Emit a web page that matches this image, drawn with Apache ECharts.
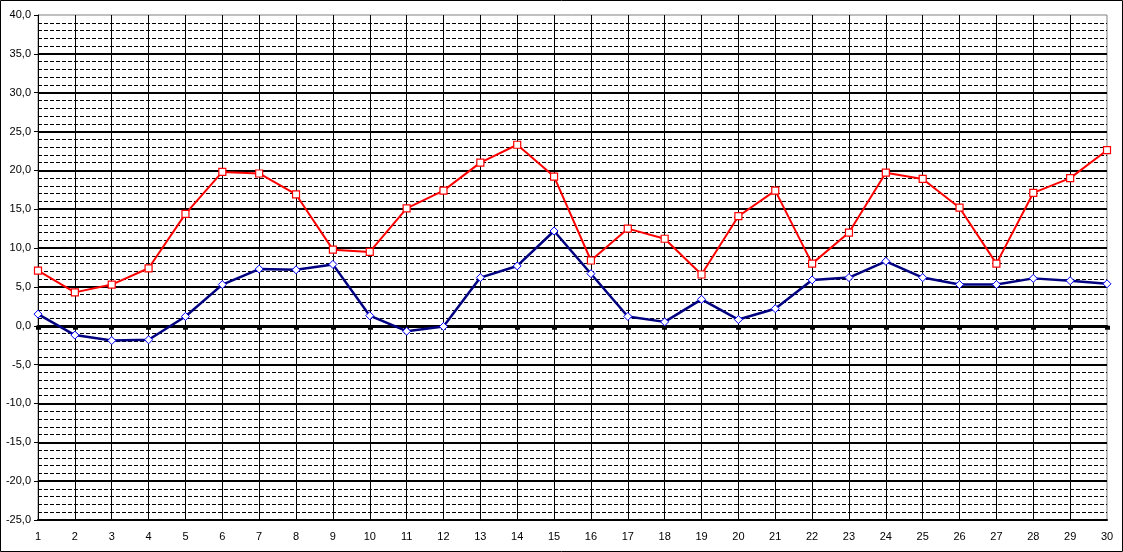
<!DOCTYPE html>
<html>
<head>
<meta charset="utf-8">
<script src="https://cdn.jsdelivr.net/npm/echarts@6/dist/echarts.min.js"></script>
<style>
html,body{margin:0;padding:0;background:#fff;}
#chart{width:1123px;height:552px;}
</style>
</head>
<body>
<div id="chart"></div>
<script>
const categories = ['1','2','3','4','5','6','7','8','9','10','11','12','13','14','15','16','17','18','19','20','21','22','23','24','25','26','27','28','29','30'];
const maxValues = [7.1,4.3,5.3,7.4,14.4,19.8,19.6,16.9,9.8,9.5,15.1,17.4,21.0,23.3,19.2,8.4,12.5,11.2,6.6,14.1,17.4,8.0,12.0,19.7,18.9,15.2,8.0,17.1,19.0,22.6];
const minValues = [1.5,-1.2,-1.9,-1.8,1.2,5.3,7.3,7.2,7.9,1.3,-0.7,-0.1,6.2,7.7,12.2,6.7,1.2,0.5,3.4,0.8,2.2,5.9,6.2,8.3,6.2,5.3,5.3,6.1,5.8,5.4];
const yMin = -25, yMax = 40, yStep = 5;

const chart = echarts.init(document.getElementById('chart'), null, {renderer:'canvas'});
const font = '"Liberation Sans", Arial, sans-serif';
chart.setOption({
  animation:false,
  backgroundColor:'#fff',
  graphic:[{type:'rect',shape:{x:0.5,y:0.5,width:1122,height:551},style:{fill:'none',stroke:'#000',lineWidth:1},z:100}],
  grid:{left:38,right:16,top:15,bottom:32,show:true,borderColor:'#808080',borderWidth:1,backgroundColor:'#fff'},
  xAxis:[{
    type:'category',data:categories,boundaryGap:false,position:'bottom',
    axisLine:{onZero:false,show:true,lineStyle:{color:'#000',width:2}},
    axisTick:{show:false},
    axisLabel:{interval:0,margin:11,color:'#000',fontSize:11,fontFamily:font},
    splitLine:{show:true,interval:0,showMaxLine:false,lineStyle:{color:'#000',width:1}}
  },{
    type:'category',data:categories,boundaryGap:false,position:'bottom',
    axisLine:{onZero:true,show:true,lineStyle:{color:'#000',width:3}},
    axisTick:{show:true,interval:0,length:4,lineStyle:{color:'#000',width:5}},
    axisLabel:{show:false},
    splitLine:{show:false}
  }],
  yAxis:{
    type:'value',min:yMin,max:yMax,interval:yStep,
    axisLine:{show:true,lineStyle:{color:'#000',width:1}},
    axisTick:{show:true,length:4,lineStyle:{color:'#000'}},
    axisLabel:{margin:7,color:'#000',fontSize:11,fontFamily:font,formatter:v=>v.toFixed(1).replace('.',',')},
    splitLine:{show:true,showMaxLine:false,lineStyle:{color:'#000',width:2}},
    minorTick:{show:false,splitNumber:5},
    minorSplitLine:{show:true,lineStyle:{color:'#000',width:1,type:[4,2]}}
  },
  series:[{
    type:'line',data:maxValues,xAxisIndex:0,
    symbol:'rect',symbolSize:7,showAllSymbol:true,
    lineStyle:{color:'#ff0000',width:2},
    itemStyle:{color:'#fff',borderColor:'#ff0000',borderWidth:1.2},
    z:5
  },{
    type:'line',data:minValues,xAxisIndex:0,
    symbol:'diamond',symbolSize:8,showAllSymbol:true,
    lineStyle:{color:'#000080',width:2.5},
    itemStyle:{color:'#fff',borderColor:'#0000ff',borderWidth:1},
    z:5
  }]
});
</script>
</body>
</html>
